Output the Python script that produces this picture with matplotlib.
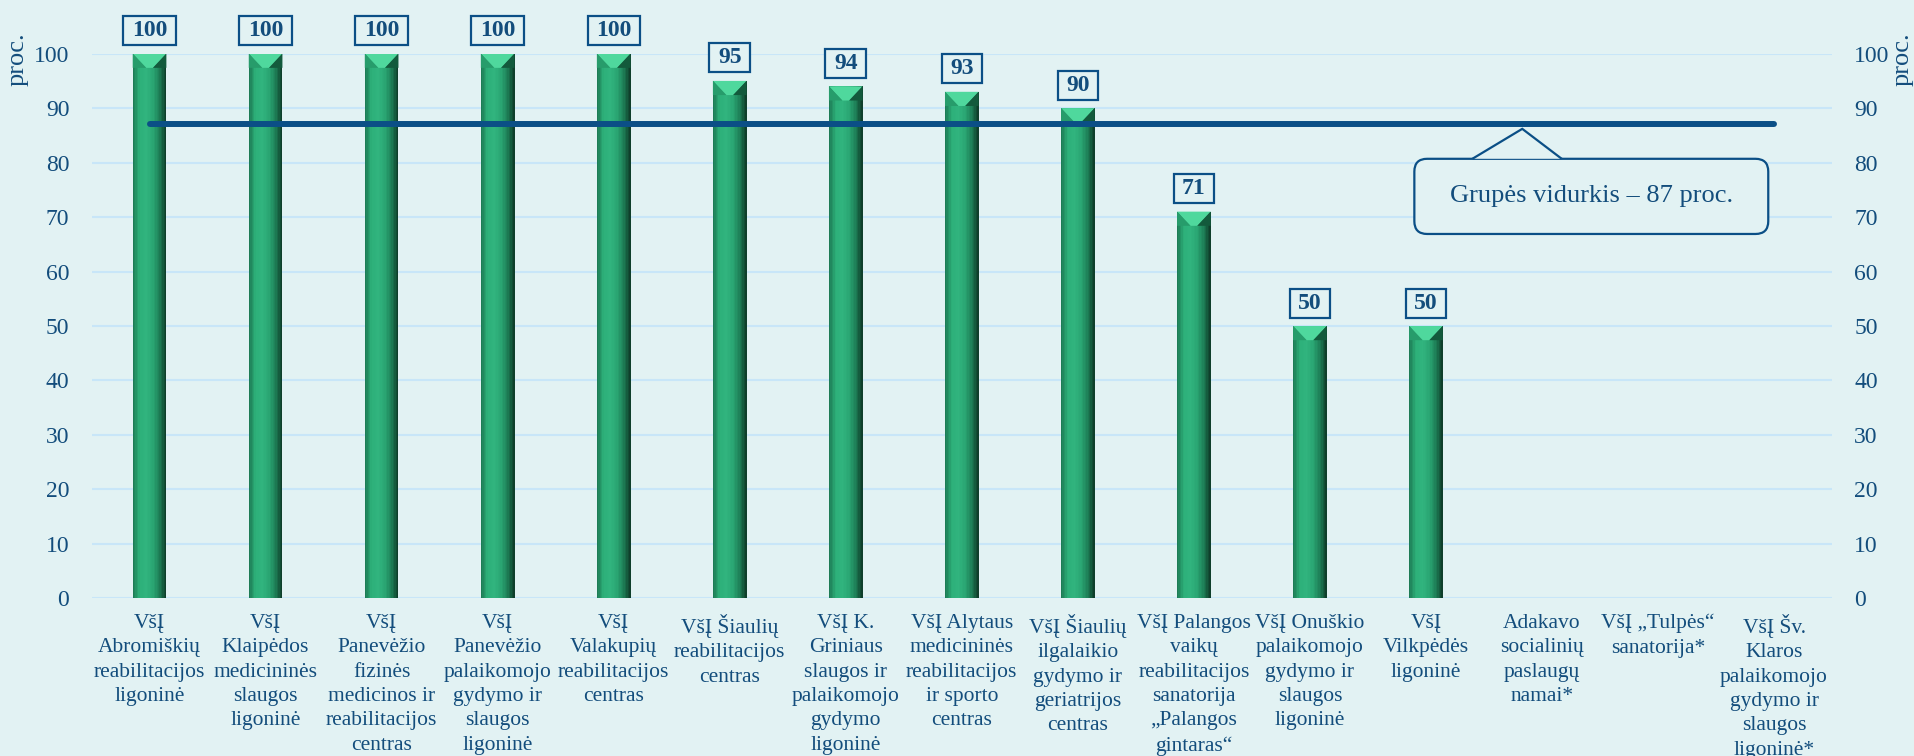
import numpy as np
import matplotlib.pyplot as plt
from matplotlib.patches import Polygon, FancyBboxPatch
from matplotlib.colors import LinearSegmentedColormap
from matplotlib.path import Path

# ---- data ----
categories = [
    "VšĮ\nAbromiškių\nreabilitacijos\nligoninė",
    "VšĮ\nKlaipėdos\nmedicininės\nslaugos\nligoninė",
    "VšĮ\nPanevėžio\nfizinės\nmedicinos ir\nreabilitacijos\ncentras",
    "VšĮ\nPanevėžio\npalaikomojo\ngydymo ir\nslaugos\nligoninė",
    "VšĮ\nValakupių\nreabilitacijos\ncentras",
    "VšĮ Šiaulių\nreabilitacijos\ncentras",
    "VšĮ K.\nGriniaus\nslaugos ir\npalaikomojo\ngydymo\nligoninė",
    "VšĮ Alytaus\nmedicininės\nreabilitacijos\nir sporto\ncentras",
    "VšĮ Šiaulių\nilgalaikio\ngydymo ir\ngeriatrijos\ncentras",
    "VšĮ Palangos\nvaikų\nreabilitacijos\nsanatorija\n„Palangos\ngintaras“",
    "VšĮ Onuškio\npalaikomojo\ngydymo ir\nslaugos\nligoninė",
    "VšĮ\nVilkpėdės\nligoninė",
    "Adakavo\nsocialinių\npaslaugų\nnamai*",
    "VšĮ „Tulpės“\nsanatorija*",
    "VšĮ Šv.\nKlaros\npalaikomojo\ngydymo ir\nslaugos\nligoninė*",
]
values = [100, 100, 100, 100, 100, 95, 94, 93, 90, 71, 50, 50, None, None, None]
group_avg = 87
avg_label = "Grupės vidurkis – 87 proc."
y_ticks = list(range(0, 101, 10))

# ---- style ----
BG = "#e2f2f3"
GRID = "#c8e6f8"
TXT = "#134d7c"
LINE = "#0b4f86"
FONT = "Liberation Serif"

plt.rcParams["font.family"] = FONT


def label_box(x0, y0, width, height, mutation_size):
    # wider than tall padding, like the data labels in the original
    px = 0.36 * mutation_size
    py = 0.17 * mutation_size
    return Path([(x0 - px, y0 - py), (x0 + width + px, y0 - py),
                 (x0 + width + px, y0 + height + py), (x0 - px, y0 + height + py),
                 (x0 - px, y0 - py)], closed=True)


fig = plt.figure(figsize=(19.15, 7.56), dpi=100, facecolor=BG)
ax = fig.add_axes([0.0478, 0.2085, 0.9089, 0.7205], facecolor=BG)

x = np.arange(len(categories))
w = 0.29

# shaded bars (strips give a cylinder-ish look)
shade = LinearSegmentedColormap.from_list(
    "shade", ["#1b7651", "#2db079", "#31b47e", "#2aa673", "#1d7e56", "#0d3826"])
n_strips = 24
for xi, v in zip(x, values):
    if v is None:
        continue
    for k in range(n_strips):
        t = (k + 0.5) / n_strips
        ax.bar(xi - w / 2 + t * w, v, width=w / n_strips * 1.05,
               color=shade(t), linewidth=0, zorder=3)
    d = 2.6
    ax.add_patch(Polygon([(xi - w / 2, v), (xi + w / 2, v), (xi + w / 10, v - d),
                          (xi - w / 10, v - d)], closed=True,
                         facecolor="#4fd89d", edgecolor="none", zorder=4))
    ax.add_patch(Polygon([(xi - w / 2, v), (xi - w / 10, v - d), (xi - w / 2, v - d)],
                         closed=True, facecolor="#279c6b", edgecolor="none", zorder=4))
    ax.add_patch(Polygon([(xi + w / 2, v), (xi + w / 10, v - d), (xi + w / 2, v - d)],
                         closed=True, facecolor="#135a3c", edgecolor="none", zorder=4))
    ax.annotate(str(v), (xi, v), xytext=(0, 9), textcoords="offset points",
                ha="center", va="bottom", fontsize=17, fontweight="bold", color=TXT,
                bbox=dict(boxstyle=label_box, facecolor=BG, edgecolor=LINE, linewidth=1.6),
                zorder=6, annotation_clip=False)

# group average line
ax.plot([x[0], x[-1]], [group_avg, group_avg], color=LINE, linewidth=4.3,
        solid_capstyle="round", zorder=5)

# callout for the average
bx0, bx1, by0, by1 = 10.9, 13.95, 66.9, 80.7
box = FancyBboxPatch((bx0, by0), bx1 - bx0, by1 - by0,
                     boxstyle="round,pad=0,rounding_size=0.11", mutation_aspect=21.3,
                     facecolor=BG, edgecolor=LINE, linewidth=1.6, zorder=6)
ax.add_patch(box)
ax.add_patch(Polygon([(11.4, by1), (11.83, 86.2), (12.17, by1)], closed=False,
                     facecolor=BG, edgecolor=LINE, linewidth=1.6, zorder=7))
ax.text((bx0 + bx1) / 2, (by0 + by1) / 2, avg_label, ha="center", va="center",
        fontsize=19, color=TXT, zorder=8)

# axes
ax.set_xlim(-0.5, len(categories) - 0.5)
ax.set_ylim(0, 100)
ax.set_yticks(y_ticks)
ax.yaxis.grid(True, color=GRID, linewidth=1.5, zorder=0)
ax.set_axisbelow(True)
ax.set_xticks(x)
ax.set_xticklabels(categories, fontsize=15.5, color=TXT, linespacing=1.39)
ax.tick_params(axis="x", length=0, pad=11)
ax.tick_params(axis="y", length=0, pad=16, labelsize=17, labelcolor=TXT)
for s in ax.spines.values():
    s.set_visible(False)

ax2 = ax.twinx()
ax2.set_ylim(0, 100)
ax2.set_yticks(y_ticks)
ax2.tick_params(axis="y", length=0, pad=16, labelsize=17, labelcolor=TXT)
for s in ax2.spines.values():
    s.set_visible(False)

fig.text(18 / 1915, 1 - 59 / 756, "proc.", rotation=90, ha="center", va="center",
         fontsize=19, color=TXT)
fig.text(1903 / 1915, 1 - 59 / 756, "proc.", rotation=90, ha="center", va="center",
         fontsize=19, color=TXT)

fig.savefig("out.png", dpi=100, facecolor=BG)
